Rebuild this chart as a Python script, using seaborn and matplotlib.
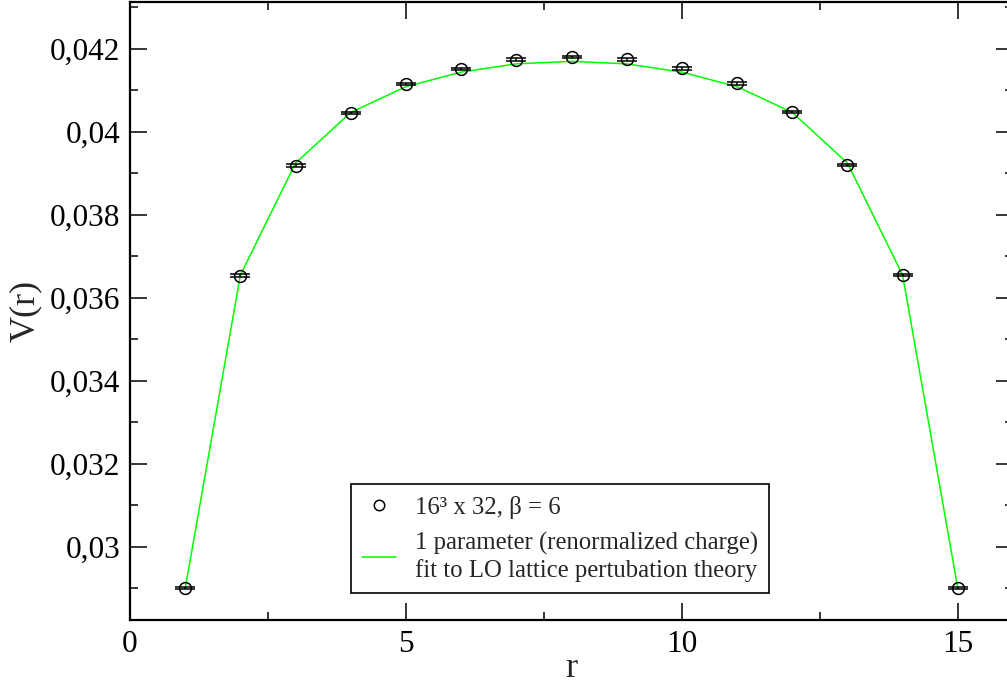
import numpy as np
import pandas as pd
import matplotlib
matplotlib.use("Agg")
import matplotlib.pyplot as plt
import seaborn as sns
from matplotlib.ticker import MultipleLocator, FuncFormatter
from matplotlib.lines import Line2D

# ---- data ----
r_vals = [1, 2, 3, 4, 5, 6, 7, 8, 9, 10, 11, 12, 13, 14, 15]
v_data = [0.02901, 0.03654, 0.03919, 0.04045, 0.04116, 0.04152, 0.04174, 0.04180,
          0.04175, 0.04153, 0.04117, 0.04048, 0.03920, 0.03655, 0.02901]
v_err = [0.00003] * 15
v_fit = [0.02900, 0.03655, 0.03925, 0.04047, 0.04109, 0.04144, 0.04164, 0.04170,
         0.04164, 0.04144, 0.04109, 0.04047, 0.03925, 0.03655, 0.02900]
label_data = "16³ x 32, β = 6"
label_fit = "1 parameter (renormalized charge)\nfit to LO lattice pertubation theory"

sns.set_theme(style="ticks")
plt.rcParams['font.family'] = ['Liberation Serif', 'DejaVu Serif']
plt.rcParams['mathtext.fontset'] = 'stix'

fig = plt.figure(figsize=(10.07, 6.86), dpi=100)
ax = fig.add_axes([130 / 1007, 66 / 686, 883 / 1007, 618 / 686])

df_fit = pd.DataFrame({"r": r_vals, "V": v_fit})
sns.lineplot(data=df_fit, x="r", y="V", ax=ax, color="#00ff00", linewidth=1.1,
             zorder=2, legend=False)
ax.errorbar(r_vals, v_data, yerr=v_err, fmt='o', mfc='none', mec='black',
            ecolor='black', ms=8.5, mew=1.1, elinewidth=1.1, capsize=7,
            capthick=1.1, zorder=3)

ax.set_xlim(0, 16)
ax.set_ylim(0.02824, 0.04313)
ax.xaxis.set_major_locator(MultipleLocator(5))
ax.xaxis.set_minor_locator(MultipleLocator(2.5))
ax.yaxis.set_major_locator(MultipleLocator(0.002))
ax.yaxis.set_minor_locator(MultipleLocator(0.001))
ax.yaxis.set_major_formatter(FuncFormatter(lambda v, p: f"{v:.3f}".rstrip('0').replace('.', ',')))
ax.xaxis.set_major_formatter(FuncFormatter(lambda v, p: f"{v:g}"))

ax.tick_params(which='both', direction='in', top=True, right=True, colors='black',
               labelsize=22.5)
ax.tick_params(which='major', length=12, width=1.1, pad=7)
ax.tick_params(which='minor', length=6, width=1.1)
for s in ax.spines.values():
    s.set_linewidth(1.6)
    s.set_color('black')

ax.set_xlabel("r", fontsize=26, labelpad=-5)
ax.set_ylabel("V(r)", fontsize=26, labelpad=6)

handles = [Line2D([], [], marker='o', ls='none', mfc='none', mec='black', ms=7.5, mew=1.1),
           Line2D([], [], color='#00ff00', lw=1.1)]
leg = ax.legend(handles, [label_data, label_fit], loc='lower left',
                bbox_to_anchor=(0.25, 0.0437), borderaxespad=0, fontsize=17.8,
                frameon=True, fancybox=False, shadow=False, handlelength=1.4,
                handletextpad=0.74, borderpad=0.45, labelspacing=0.55)
leg.get_frame().set_edgecolor('black')
leg.get_frame().set_linewidth(1.2)
leg.get_frame().set_alpha(1)

fig.savefig("out.png", dpi=100)
